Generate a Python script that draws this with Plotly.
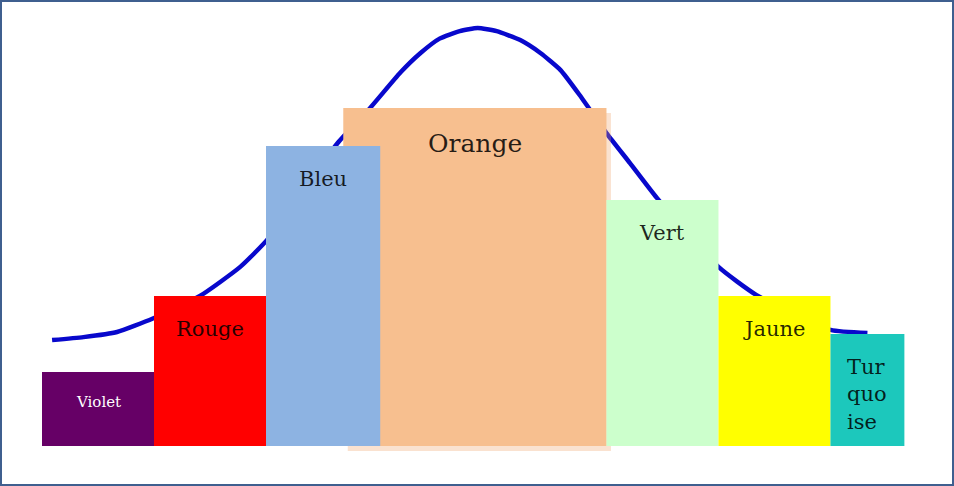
import plotly.graph_objects as go

# categories and bar data (x in bin units, y in arbitrary units)
names = ["Violet", "Rouge", "Bleu", "Orange", "Vert", "Jaune", "Turquoise"]
labels = ["Violet", "Rouge", "Bleu", "Orange", "Vert", "Jaune", "Tur<br>quo<br>ise"]
lefts = [0.0, 1.0, 2.0, 2.69, 5.04, 6.04, 7.04]
widths = [1.0, 1.0, 1.02, 2.35, 1.0, 1.0, 0.66]
values = [24.7, 50.0, 100.0, 112.7, 82.0, 50.0, 37.3]
colors = ["#660066", "#ff0000", "#8db3e2", "#f7bf8f", "#ccffcc", "#ffff00", "#1cc8bc"]

# bell curve
curve_x = [0.09, 0.37, 0.67, 0.99, 1.41, 1.77, 2.01, 2.30, 2.64, 2.93, 3.20, 3.38, 3.55,
           3.73, 3.89, 4.06, 4.27, 4.45, 4.63, 4.80, 5.04, 5.25, 5.49, 6.04, 6.38, 7.04, 7.37]
curve_y = [35.3, 36.3, 38.0, 42.5, 50.0, 59.7, 68.7, 83.7, 101.0, 112.7, 124.5, 131.0, 135.8,
           138.3, 139.3, 138.3, 135.3, 131.0, 125.3, 117.0, 104.3, 94.3, 82.7, 59.7, 50.3, 38.7, 37.7]

fig = go.Figure()

fig.add_trace(go.Scatter(x=curve_x, y=curve_y, mode="lines",
                         line=dict(color="#0808cc", width=4.5, shape="spline", smoothing=0.5),
                         hoverinfo="skip", zorder=0))

# orange goes first (behind bleu), with its soft drop shadow
io = names.index("Orange")
fig.add_trace(go.Bar(x=[lefts[io] + 0.04], y=[values[io]], base=-1.7, width=[widths[io]], offset=0,
                     marker=dict(color="rgba(238,160,100,0.3)", line_width=0), zorder=1))
fig.add_trace(go.Bar(x=[lefts[io]], y=[values[io]], width=[widths[io]], offset=0,
                     marker=dict(color=colors[io], line_width=0), zorder=1))

for i, n in enumerate(names):
    if n == "Orange":
        continue
    fig.add_trace(go.Bar(x=[lefts[i]], y=[values[i]], width=[widths[i]], offset=0,
                         marker=dict(color=colors[i], line_width=0), zorder=1))

for i, n in enumerate(names):
    size = 21
    col = "rgba(0,0,0,0.85)"
    if n == "Violet":
        size, col = 15, "white"
    elif n == "Orange":
        size = 25
    fig.add_annotation(x=lefts[i] + widths[i] / 2, y=values[i], text=labels[i],
                       showarrow=False, yanchor="top", yshift=-19, align="left",
                       font=dict(family="DejaVu Serif", size=size, color=col))

# frame round the picture
fig.add_shape(type="rect", xref="paper", yref="paper", x0=0, y0=0, x1=1, y1=1,
              line=dict(color="#3f5f8f", width=4))

fig.update_layout(width=954, height=486, margin=dict(l=0, r=0, t=0, b=0),
                  barmode="overlay", showlegend=False,
                  plot_bgcolor="white", paper_bgcolor="white",
                  xaxis=dict(range=[-0.375, 8.143], visible=False, fixedrange=True),
                  yaxis=dict(range=[-13.33, 148.67], visible=False, fixedrange=True))

fig.write_html("out.html", config={"displayModeBar": False},
               post_script="document.body.style.margin='0';document.body.style.overflow='hidden';")
